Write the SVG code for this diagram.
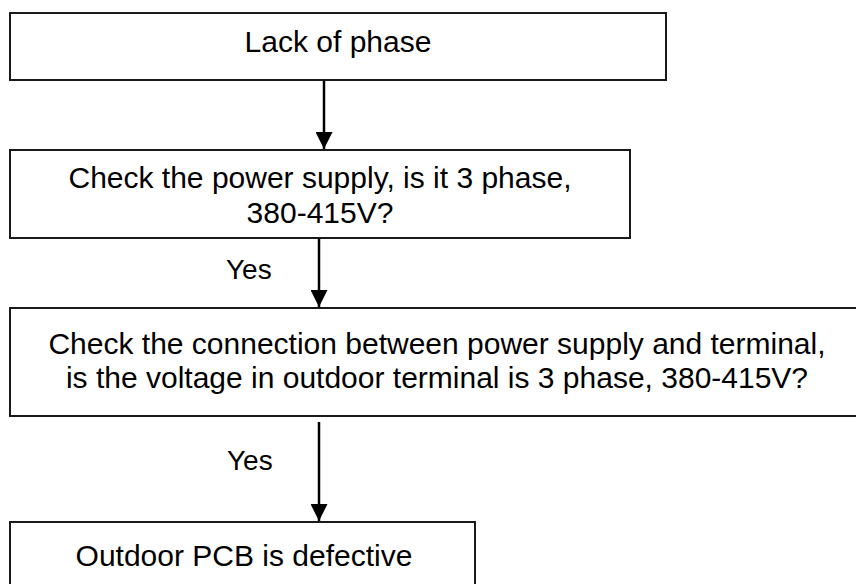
<svg xmlns="http://www.w3.org/2000/svg" width="856" height="584" viewBox="0 0 856 584">
  <style>
    .box { fill: #ffffff; stroke: #1a1a1a; stroke-width: 2; }
    .t { font-family: "Liberation Sans", Arial, sans-serif; font-size: 30px; fill: #000000; text-anchor: middle; }
    .lbl { font-family: "Liberation Sans", Arial, sans-serif; font-size: 28px; fill: #000000; }
    .edge { stroke: #000000; stroke-width: 2.5; fill: none; marker-end: url(#arrow); }
  </style>
  <defs>
    <marker id="arrow" markerUnits="userSpaceOnUse" markerWidth="18" markerHeight="17" refX="17" refY="8.5" orient="auto">
      <path d="M0,0 L17,8.5 L0,17 Z" fill="#000000"/>
    </marker>
  </defs>
  <rect width="856" height="584" fill="#ffffff"/>

  <g id="n1">
    <rect class="box" x="10" y="13" width="656" height="67"/>
    <text class="t" x="338" y="52">Lack of phase</text>
  </g>
  <g id="n2">
    <rect class="box" x="10" y="150" width="620" height="88"/>
    <text class="t" x="320" y="188">Check the power supply, is it 3 phase,</text>
    <text class="t" x="320" y="223">380-415V?</text>
  </g>
  <g id="n3">
    <rect class="box" x="10" y="308" width="856" height="108"/>
    <text class="t" x="437" y="354">Check the connection between power supply and terminal,</text>
    <text class="t" x="437" y="388">is the voltage in outdoor terminal is 3 phase, 380-415V?</text>
  </g>
  <g id="n4">
    <rect class="box" x="10" y="522" width="465" height="80"/>
    <text class="t" x="244" y="566">Outdoor PCB is defective</text>
  </g>

  <g id="connectors">
    <line class="edge" x1="324" y1="81" x2="324" y2="149"/>
    <line class="edge" x1="319" y1="238" x2="319" y2="307"/>
    <line class="edge" x1="319" y1="422" x2="319" y2="521"/>
    <text class="lbl" x="226" y="279">Yes</text>
    <text class="lbl" x="227" y="470">Yes</text>
  </g>
</svg>
